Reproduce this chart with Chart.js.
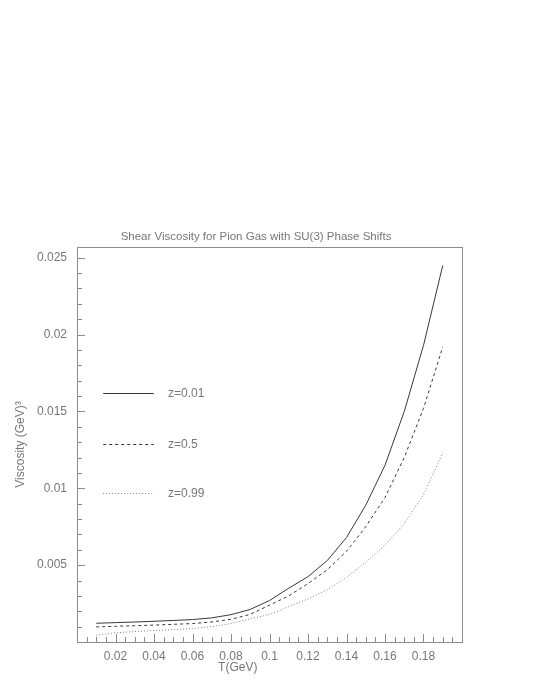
<!DOCTYPE html>
<html>
<head>
<meta charset="utf-8">
<script src="https://cdn.jsdelivr.net/npm/chart.js"></script>
<style>
  html, body { margin: 0; padding: 0; background: #fff; }
</style>
</head>
<body>
<canvas id="viscChart" width="554" height="692"></canvas>
<script>
// Temperature T (GeV)
const temps = [0.01, 0.02, 0.03, 0.04, 0.05, 0.06, 0.07, 0.08, 0.09, 0.10,
               0.11, 0.12, 0.13, 0.14, 0.15, 0.16, 0.17, 0.18, 0.19];

// Shear viscosity (GeV^3) for each z
const viscZ001 = [0.00122, 0.00126, 0.00130, 0.00135, 0.00140, 0.00146, 0.00157, 0.00178, 0.00212, 0.00270,
                  0.00350, 0.00425, 0.00530, 0.00680, 0.00890, 0.01150, 0.01500, 0.01930, 0.02450];
const viscZ05  = [0.00098, 0.00102, 0.00106, 0.00110, 0.00115, 0.00120, 0.00130, 0.00148, 0.00180, 0.00240,
                  0.00300, 0.00380, 0.00470, 0.00590, 0.00750, 0.00940, 0.01200, 0.01520, 0.01920];
const viscZ099 = [0.00044, 0.00060, 0.00068, 0.00075, 0.00080, 0.00087, 0.00100, 0.00120, 0.00150, 0.00180,
                  0.00230, 0.00280, 0.00340, 0.00420, 0.00520, 0.00630, 0.00770, 0.00960, 0.01230];

const seriesLabels = ['z=0.01', 'z=0.5', 'z=0.99'];

const xTickValues = [0.02, 0.04, 0.06, 0.08, 0.10, 0.12, 0.14, 0.16, 0.18];
const xTickLabels = ['0.02', '0.04', '0.06', '0.08', '0.1', '0.12', '0.14', '0.16', '0.18'];
const yTickValues = [0.005, 0.010, 0.015, 0.020, 0.025];
const yTickLabels = ['0.005', '0.01', '0.015', '0.02', '0.025'];

const chartTitle = 'Shear Viscosity for Pion Gas with SU(3) Phase Shifts';
const xTitle = 'T(GeV)';
const yTitle = 'Viscosity (GeV)\u00B3';

const textColor = '#777777';
const fontFamily = '"Liberation Sans", Arial, sans-serif';

function toPoints(values) {
    return temps.map((t, i) => ({ x: t, y: values[i] }));
}

const seriesStyles = [
    { color: '#383838', dash: [] },
    { color: '#383838', dash: [3, 3] },
    { color: '#808080', dash: [1, 2] }
];

// Frame, inward tick marks, title, axis titles and legend
const framePlugin = {
    id: 'framePlugin',
    afterDraw(chart) {
        const ctx = chart.ctx;
        const area = chart.chartArea;
        const xs = chart.scales.x;
        const ys = chart.scales.y;

        ctx.save();
        ctx.strokeStyle = '#8c8c8c';
        ctx.lineWidth = 1;
        ctx.strokeRect(area.left + 0.5, area.top + 0.5, area.right - area.left, area.bottom - area.top);

        // x ticks (minor every 0.005, major every 0.02)
        ctx.beginPath();
        for (let k = 1; k < 40; k++) {
            const v = k * 0.005;
            const px = Math.round(xs.getPixelForValue(v)) + 0.5;
            const len = (k % 4 === 0) ? 8 : 5;
            ctx.moveTo(px, area.bottom);
            ctx.lineTo(px, area.bottom - len);
        }
        // y ticks (minor every 0.001, major every 0.005)
        for (let k = 1; k <= 25; k++) {
            const v = k * 0.001;
            const py = Math.round(ys.getPixelForValue(v)) + 0.5;
            const len = (k % 5 === 0) ? 8 : 5;
            ctx.moveTo(area.left, py);
            ctx.lineTo(area.left + len, py);
        }
        ctx.stroke();

        ctx.fillStyle = textColor;
        ctx.font = '11.5px ' + fontFamily;
        ctx.textAlign = 'center';
        ctx.textBaseline = 'middle';
        ctx.fillText(chartTitle, xs.getPixelForValue(0.093), area.top - 10);

        ctx.font = '12px ' + fontFamily;
        ctx.fillText(xTitle, xs.getPixelForValue(0.0835), area.bottom + 26);

        ctx.save();
        ctx.translate(21, (area.top + area.bottom) / 2);
        ctx.rotate(-Math.PI / 2);
        ctx.fillText(yTitle, 0, 0);
        ctx.restore();

        // legend inside plot
        const legendRows = [0.0162, 0.0129, 0.0097];
        seriesLabels.forEach((label, i) => {
            const py = Math.round(ys.getPixelForValue(legendRows[i])) + 0.5;
            ctx.beginPath();
            ctx.strokeStyle = seriesStyles[i].color;
            ctx.setLineDash(seriesStyles[i].dash);
            ctx.moveTo(xs.getPixelForValue(0.0136), py);
            ctx.lineTo(xs.getPixelForValue(0.0399), py);
            ctx.stroke();
            ctx.setLineDash([]);
            ctx.textAlign = 'left';
            ctx.fillText(label, xs.getPixelForValue(0.0473), py);
        });
        ctx.restore();
    }
};

const datasets = [viscZ001, viscZ05, viscZ099].map((vals, i) => ({
    label: seriesLabels[i],
    data: toPoints(vals),
    borderColor: seriesStyles[i].color,
    borderDash: seriesStyles[i].dash,
    borderWidth: 1,
    pointRadius: 0,
    tension: 0,
    fill: false
}));

new Chart(document.getElementById('viscChart').getContext('2d'), {
    type: 'line',
    data: { datasets: datasets },
    options: {
        responsive: false,
        animation: false,
        devicePixelRatio: 1,
        layout: { padding: { top: 247, right: 92, bottom: 0, left: 0 } },
        plugins: {
            legend: { display: false },
            title: { display: false },
            tooltip: { enabled: false }
        },
        scales: {
            x: {
                type: 'linear',
                min: 0,
                max: 0.2,
                grid: { display: false, drawTicks: false },
                border: { display: false },
                afterFit(scale) { scale.height = 50; },
                afterBuildTicks(scale) { scale.ticks = xTickValues.map(v => ({ value: v })); },
                ticks: {
                    color: textColor,
                    font: { family: fontFamily, size: 12 },
                    padding: 7,
                    maxRotation: 0,
                    autoSkip: false,
                    callback: (v, i) => xTickLabels[i]
                }
            },
            y: {
                type: 'linear',
                min: 0,
                max: 0.0257,
                grid: { display: false, drawTicks: false },
                border: { display: false },
                afterFit(scale) { scale.width = 77; },
                afterBuildTicks(scale) { scale.ticks = yTickValues.map(v => ({ value: v })); },
                ticks: {
                    color: textColor,
                    font: { family: fontFamily, size: 12 },
                    padding: 10,
                    autoSkip: false,
                    callback: (v, i) => yTickLabels[i]
                }
            }
        }
    },
    plugins: [framePlugin]
});
</script>
</body>
</html>
